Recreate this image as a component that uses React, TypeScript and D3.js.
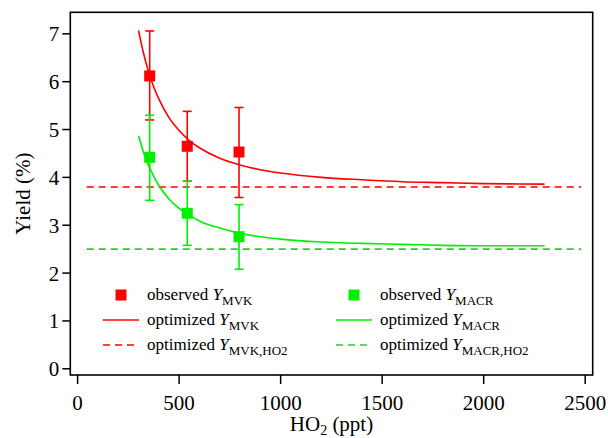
import React from 'react';
import * as d3 from 'd3';

// observed yields (%) vs HO2 (ppt)
const obsHO2 = [355, 540, 795];
const obsMVK = [6.12, 4.65, 4.53];
const obsMVKHi = [7.06, 5.38, 5.46];
const obsMVKLo = [5.2, 3.92, 3.58];
const obsMACR = [4.42, 3.25, 2.76];
const obsMACRHi = [5.3, 3.92, 3.43];
const obsMACRLo = [3.52, 2.58, 2.08];

// optimized curves
const fitHO2 = [300, 325, 350, 375, 400, 450, 500, 550, 600, 700, 800, 900, 1000, 1200, 1400, 1600, 1800, 2000, 2300];
const fitMVK = [7.07, 6.59, 6.2, 5.89, 5.64, 5.25, 4.98, 4.77, 4.62, 4.4, 4.26, 4.16, 4.09, 4.0, 3.95, 3.91, 3.89, 3.87, 3.86];
const fitMACR = [4.87, 4.52, 4.24, 4.02, 3.83, 3.55, 3.35, 3.21, 3.09, 2.94, 2.83, 2.76, 2.71, 2.65, 2.62, 2.6, 2.58, 2.57, 2.57];

// HO2-limit yields (dashed)
const limitMVK = 3.8;
const limitMACR = 2.5;
const limitHO2Range = [45, 2480];

const xTicks = [0, 500, 1000, 1500, 2000, 2500];
const yTicks = [0, 1, 2, 3, 4, 5, 6, 7];

const RED = '#ff0000';
const GREEN = '#00f000';
const GREEN_DASH = '#2ccc2c';
const FONT = 'Liberation Serif';

const frame = { left: 70.3, right: 592.7, top: 12.3, bottom: 375 };

const App = () => {
	const x = d3.scaleLinear().domain([-36, 2537]).range([frame.left, frame.right]);
	const y = d3.scaleLinear().domain([-0.13, 7.45]).range([frame.bottom, frame.top]);

	const line = d3
		.line<[number, number]>()
		.x((d) => x(d[0]))
		.y((d) => y(d[1]))
		.curve(d3.curveMonotoneX);

	const mvkPath = line(fitHO2.map((h, i) => [h, fitMVK[i]]));
	const macrPath = line(fitHO2.map((h, i) => [h, fitMACR[i]]));

	const series = [
		{ color: RED, v: obsMVK, hi: obsMVKHi, lo: obsMVKLo },
		{ color: GREEN, v: obsMACR, hi: obsMACRHi, lo: obsMACRLo },
	];

	const legendRows = [295, 320, 345];
	const legendCols = [
		{ x0: 103, color: RED, dash: RED, sub: 'MVK' },
		{ x0: 336, color: GREEN, dash: GREEN_DASH, sub: 'MACR' },
	];

	const label = (prefix: string, sub: string) => (
		<>
			{prefix + ' '}
			<tspan fontStyle='italic'>Y</tspan>
			<tspan fontSize={13} dy={5}>
				{sub}
			</tspan>
		</>
	);

	return (
		<svg width={608} height={438} style={{ position: 'absolute', left: 0, top: 0, background: '#fff' }}>
			{/* dashed HO2 limits */}
			{[
				{ v: limitMVK, c: RED },
				{ v: limitMACR, c: GREEN_DASH },
			].map((d) => (
				<line
					key={d.v}
					x1={x(limitHO2Range[0])}
					x2={x(limitHO2Range[1])}
					y1={y(d.v)}
					y2={y(d.v)}
					stroke={d.c}
					strokeWidth={1.6}
					strokeDasharray='7,5'
				/>
			))}

			{/* fitted curves */}
			<path d={mvkPath || ''} fill='none' stroke={RED} strokeWidth={1.6} />
			<path d={macrPath || ''} fill='none' stroke={GREEN} strokeWidth={1.6} />

			{/* observed points with error bars */}
			{series.map((s, si) => (
				<g key={si}>
					{obsHO2.map((h, i) => (
						<g key={h}>
							<line x1={x(h)} x2={x(h)} y1={y(s.hi[i])} y2={y(s.lo[i])} stroke={s.color} strokeWidth={1.6} />
							<line x1={x(h) - 4.5} x2={x(h) + 4.5} y1={y(s.hi[i])} y2={y(s.hi[i])} stroke={s.color} strokeWidth={1.6} />
							<line x1={x(h) - 4.5} x2={x(h) + 4.5} y1={y(s.lo[i])} y2={y(s.lo[i])} stroke={s.color} strokeWidth={1.6} />
							<rect x={x(h) - 5.5} y={y(s.v[i]) - 5.5} width={11} height={11} fill={s.color} />
						</g>
					))}
				</g>
			))}

			{/* frame */}
			<rect
				x={frame.left}
				y={frame.top}
				width={frame.right - frame.left}
				height={frame.bottom - frame.top}
				fill='none'
				stroke='black'
				strokeWidth={1.6}
			/>

			{/* x axis */}
			{xTicks.map((t) => (
				<g key={t} transform={`translate(${x(t)},${frame.bottom})`}>
					<line y2={9} stroke='black' strokeWidth={1.5} />
					<text y={35} textAnchor='middle' fontSize={21} fontFamily={FONT} fill='black'>
						{t}
					</text>
				</g>
			))}
			<text x={(frame.left + frame.right) / 2} y={431} textAnchor='middle' fontSize={21} fontFamily={FONT} fill='black'>
				HO
				<tspan fontSize={14} dy={4}>
					2
				</tspan>
				<tspan dy={-4}> (ppt)</tspan>
			</text>

			{/* y axis */}
			{yTicks.map((t) => (
				<g key={t} transform={`translate(${frame.left},${y(t)})`}>
					<line x2={-8} stroke='black' strokeWidth={1.5} />
					<text x={-11} y={7.5} textAnchor='end' fontSize={21} fontFamily={FONT} fill='black'>
						{t}
					</text>
				</g>
			))}
			<text
				transform={`translate(30,${(frame.top + frame.bottom) / 2}) rotate(-90)`}
				textAnchor='middle'
				fontSize={21}
				fontFamily={FONT}
				fill='black'
			>
				Yield (%)
			</text>

			{/* legend */}
			{legendCols.map((c) => (
				<g key={c.sub}>
					<rect x={c.x0 + 12.5} y={legendRows[0] - 5.5} width={11} height={11} fill={c.color} />
					<line x1={c.x0} x2={c.x0 + 36} y1={legendRows[1]} y2={legendRows[1]} stroke={c.color} strokeWidth={1.6} />
					<line
						x1={c.x0}
						x2={c.x0 + 36}
						y1={legendRows[2]}
						y2={legendRows[2]}
						stroke={c.dash}
						strokeWidth={1.6}
						strokeDasharray='7,5'
					/>
					{['observed', 'optimized', 'optimized'].map((p, ri) => (
						<text key={ri} x={c.x0 + 44} y={legendRows[ri] + 5} fontSize={17} fontFamily={FONT} fill='black'>
							{label(p, ri === 2 ? c.sub + ',HO2' : c.sub)}
						</text>
					))}
				</g>
			))}
		</svg>
	);
};

export default App;
